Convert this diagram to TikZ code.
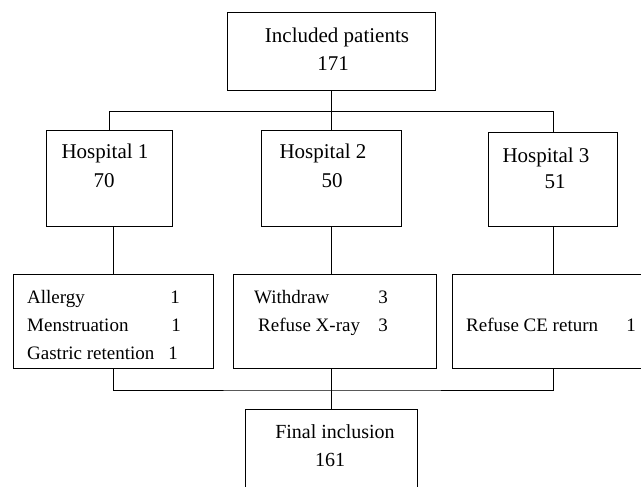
\documentclass[tikz,border=0pt]{standalone}
\usepackage{fontspec}
\setmainfont{Liberation Serif}

\begin{document}
\begin{tikzpicture}[
      x=1pt, y=-1pt,
      box/.style={draw, line width=1pt, inner sep=0pt},
      head/.style={inner sep=0pt, anchor=base, font=\fontsize{21}{28}\selectfont},
      item/.style={inner sep=0pt, anchor=base west, font=\fontsize{19}{28}\selectfont},
      num/.style={inner sep=0pt, anchor=base, font=\fontsize{19}{28}\selectfont},
      link/.style={line width=1pt}
    ]
    \useasboundingbox (0,0) rectangle (641,487);
    \clip (0,0) rectangle (641,487);

    % the boxes (the last row runs off the page, as in the figure)
    \node[box, minimum width=208, minimum height=78] (inc) at (331,52) {};
    \node[box, minimum width=126, minimum height=95] (h1) at (109,178.5) {};
    \node[box, minimum width=140, minimum height=95] (h2) at (331,178.5) {};
    \node[box, minimum width=129, minimum height=93] (h3) at (553,179.5) {};
    \node[box, minimum width=200, minimum height=94] (b1) at (113,321) {};
    \node[box, minimum width=203, minimum height=94] (b2) at (334.5,321) {};
    \node[box, minimum width=202, minimum height=94] (b3) at (553,321) {};
    \node[box, minimum width=172, minimum height=92] (fin) at (331,455) {};

    % labels
    \node[head] (inc-t) at (337,43) {Included patients};
    \node[head] (inc-n) at (333,71) {171};
    \node[head] (h1-t) at (105,159) {Hospital 1};
    \node[head] (h1-n) at (104,187) {70};
    \node[head] (h2-t) at (323,159) {Hospital 2};
    \node[head] (h2-n) at (332,187) {50};
    \node[head] (h3-t) at (546,162) {Hospital 3};
    \node[head] (h3-n) at (555,189) {51};

    % exclusions, hospital 1
    \node[item] (b1-a) at (27,303) {Allergy};
    \node[num] (b1-an) at (175,303) {1};
    \node[item] (b1-m) at (27,331) {Menstruation};
    \node[num] (b1-mn) at (176,331) {1};
    \node[item] (b1-g) at (27,359) {Gastric retention};
    \node[num] (b1-gn) at (173,359) {1};
    % exclusions, hospital 2
    \node[item] (b2-w) at (254,303) {Withdraw};
    \node[num] (b2-wn) at (383,303) {3};
    \node[item] (b2-x) at (258,331) {Refuse X-ray};
    \node[num] (b2-xn) at (383,331) {3};
    % exclusions, hospital 3
    \node[item] (b3-r) at (466,331) {Refuse CE return};
    \node[num] (b3-rn) at (631,331) {1};

    \node[head, font=\fontsize{20}{28}\selectfont] (fin-t) at (335,438) {Final inclusion};
    \node[head, font=\fontsize{20}{28}\selectfont] (fin-n) at (330,466) {161};

    % connectors
    \coordinate (split) at (331,112);
    \coordinate (merge) at (331,390);
    \draw[link] (inc.south) -- (split);
    \draw[link] (split) -| (h1.north);
    \draw[link] (split) -- (h2.north);
    \draw[link] (split) -| (h3.north);
    \draw[link] (b1.north |- h1.south) -- (b1.north);
    \draw[link] (h2.south) -- (b2.north -| h2.south);
    \draw[link] (h3.south) -- (b3.north);
    \draw[link] (b1.south) |- (merge) -| (b3.south);
    \draw[link] (fin.north |- b2.south) -- (fin.north);
\end{tikzpicture}
\end{document}
